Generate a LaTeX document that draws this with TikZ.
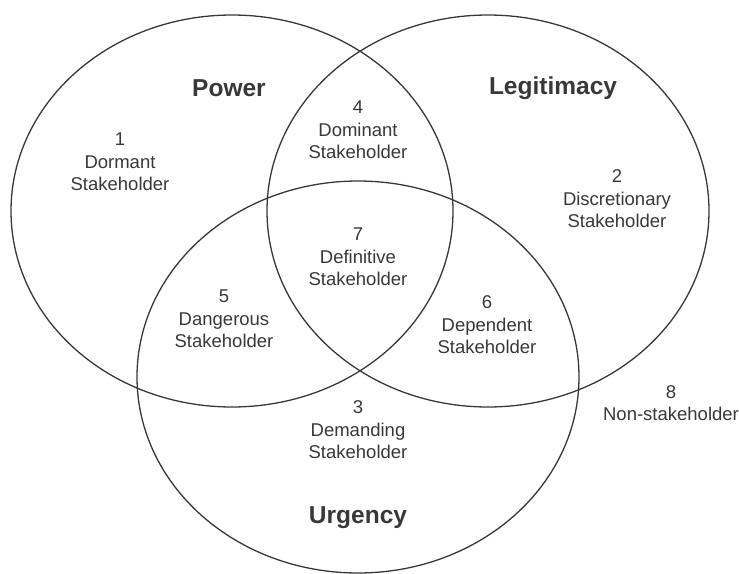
\documentclass[tikz,border=0pt]{standalone}
\usepackage{fontspec}
\setmainfont{Liberation Sans}
\usepackage{tikz}
\usetikzlibrary{shapes.geometric}
\usepackage{xcolor}
\definecolor{inkgray}{rgb}{0.22,0.22,0.22}
\tikzset{
  ring/.style  ={ellipse, draw=inkgray, line width=1.3pt, inner sep=0pt,
                 minimum width=442pt, minimum height=392pt},
  attr/.style  ={text=inkgray, font=\bfseries\fontsize{24.5}{28}\selectfont},
  klass/.style ={text=inkgray, align=center, inner sep=0pt,
                 font=\fontsize{18.5}{22.5}\selectfont},
}

\begin{document}
\begin{tikzpicture}[x=1pt, y=-1pt]
  \useasboundingbox (0,0) rectangle (739,573);
  % the three attributes
  \node[ring] (power)   at (232,211) {};
  \node[ring] (legit)   at (488,211) {};
  \node[ring] (urgency) at (358,377) {};
  \node[attr] (powerlbl)   at (229,88)  {Power};
  \node[attr] (legitlbl)   at (553,88)  {Legitimacy};
  \node[attr] (urgencylbl) at (358,518) {Urgency};
  % stakeholder classes
  \node[klass] (dormant)   at (120,162) {1\\Dormant\\Stakeholder};
  \node[klass] (discret)   at (617,199) {2\\Discretionary\\Stakeholder};
  \node[klass] (demand)    at (358,430) {3\\Demanding\\Stakeholder};
  \node[klass] (dominant)  at (358,130) {4\\Dominant\\Stakeholder};
  \node[klass] (dangerous) at (224,319) {5\\Dangerous\\Stakeholder};
  \node[klass] (dependent) at (487,325) {6\\Dependent\\Stakeholder};
  \node[klass] (definite)  at (358,257) {7\\Definitive\\Stakeholder};
  \node[klass] (nonstake)  at (671,403) {8\\Non-stakeholder};
\end{tikzpicture}
\end{document}
